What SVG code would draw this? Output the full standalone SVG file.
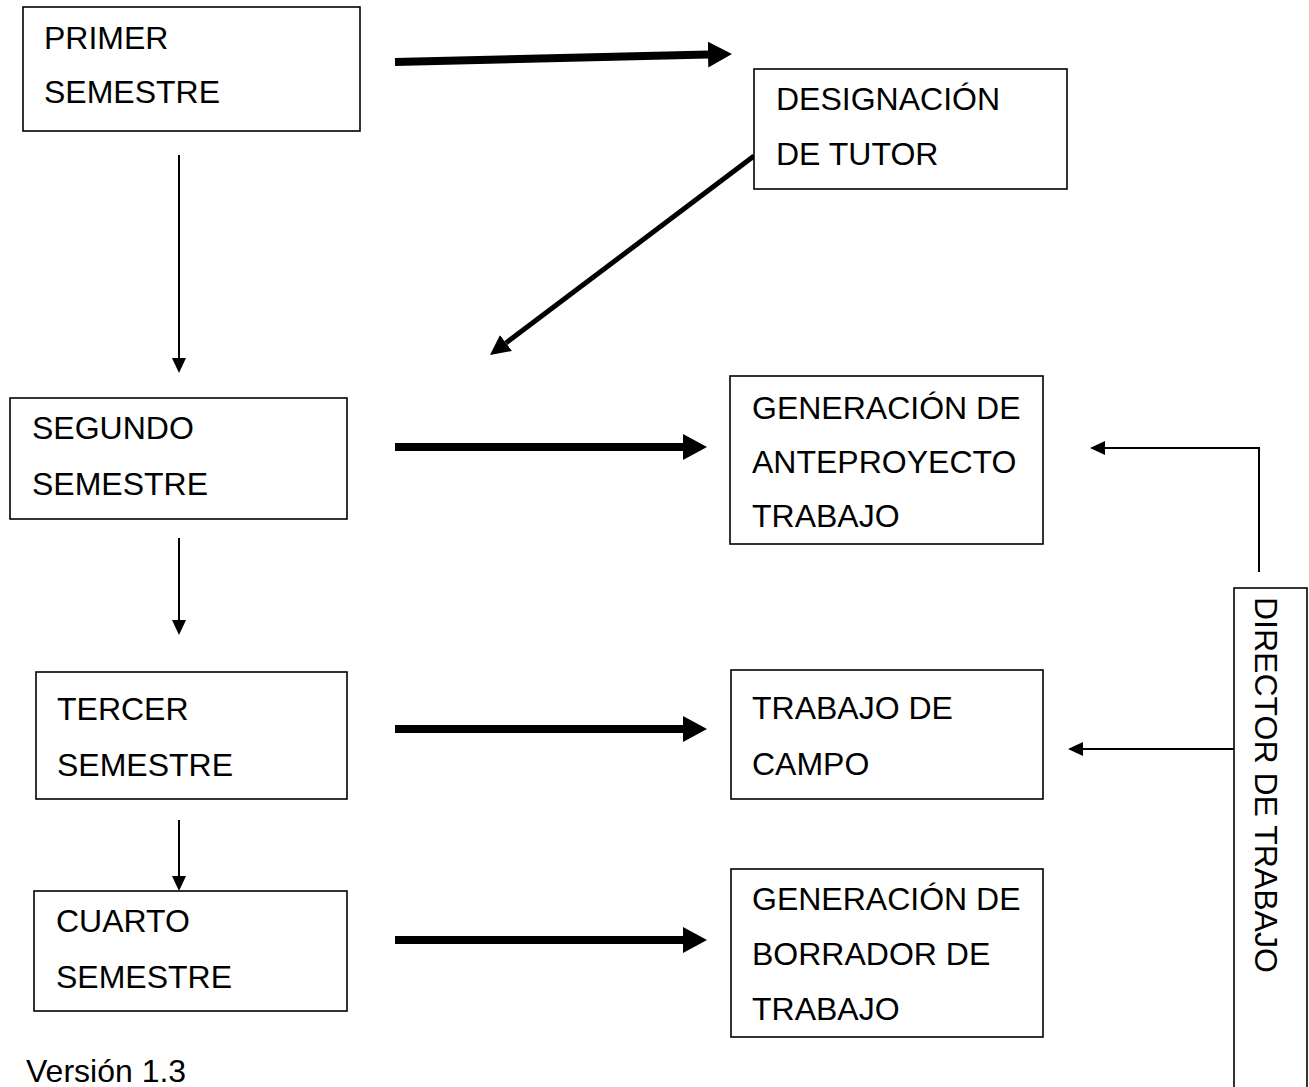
<svg xmlns="http://www.w3.org/2000/svg" width="1309" height="1087" viewBox="0 0 1309 1087">
<style>
.box{fill:#fff;stroke:#000;stroke-width:1.6}
.t{font-family:"Liberation Sans",Arial,sans-serif;font-size:32px;fill:#000}
.thick{stroke:#000;stroke-width:8;fill:none}
.diag{stroke:#000;stroke-width:5;fill:none}
.thin{stroke:#000;stroke-width:2;fill:none}
</style>
<defs>
<marker id="hBig" markerUnits="userSpaceOnUse" markerWidth="24" markerHeight="26" refX="0" refY="13" orient="auto"><path d="M0,0 L24,13 L0,26 z" fill="#000"/></marker>
<marker id="hMid" markerUnits="userSpaceOnUse" markerWidth="20" markerHeight="20" refX="0" refY="10" orient="auto"><path d="M0,0 L20,10 L0,20 z" fill="#000"/></marker>
<marker id="hSmall" markerUnits="userSpaceOnUse" markerWidth="15" markerHeight="14" refX="0" refY="7" orient="auto"><path d="M0,0 L15,7 L0,14 z" fill="#000"/></marker>
</defs>
<rect width="1309" height="1087" fill="#fff"/>
<g id="connectors">
<line class="thick" x1="395" y1="62" x2="708" y2="54.6" marker-end="url(#hBig)"/>
<line class="diag" x1="754" y1="156" x2="506" y2="343" marker-end="url(#hMid)"/>
<line class="thin" x1="179" y1="155" x2="179" y2="358" marker-end="url(#hSmall)"/>
<line class="thin" x1="179" y1="538" x2="179" y2="620" marker-end="url(#hSmall)"/>
<line class="thin" x1="179" y1="820" x2="179" y2="876" marker-end="url(#hSmall)"/>
<line class="thick" x1="395" y1="447" x2="683" y2="447" marker-end="url(#hBig)"/>
<line class="thick" x1="395" y1="729" x2="683" y2="729" marker-end="url(#hBig)"/>
<line class="thick" x1="395" y1="940" x2="683" y2="940" marker-end="url(#hBig)"/>
<polyline class="thin" points="1259,572 1259,448 1105,448" marker-end="url(#hSmall)"/>
<line class="thin" x1="1234" y1="749" x2="1083" y2="749" marker-end="url(#hSmall)"/>
</g>
<g id="primer">
<rect class="box" x="23" y="7" width="337" height="124"/>
<text class="t" x="44" y="49">PRIMER</text>
<text class="t" x="44" y="103">SEMESTRE</text>
</g>
<g id="designacion">
<rect class="box" x="754" y="69" width="313" height="120"/>
<text class="t" x="776" y="110">DESIGNACIÓN</text>
<text class="t" x="776" y="165">DE TUTOR</text>
</g>
<g id="segundo">
<rect class="box" x="10" y="398" width="337" height="121"/>
<text class="t" x="32" y="439">SEGUNDO</text>
<text class="t" x="32" y="495">SEMESTRE</text>
</g>
<g id="anteproyecto">
<rect class="box" x="730" y="376" width="313" height="168"/>
<text class="t" x="752" y="419">GENERACIÓN DE</text>
<text class="t" x="752" y="473">ANTEPROYECTO</text>
<text class="t" x="752" y="527">TRABAJO</text>
</g>
<g id="tercer">
<rect class="box" x="36" y="672" width="311" height="127"/>
<text class="t" x="57" y="720">TERCER</text>
<text class="t" x="57" y="776">SEMESTRE</text>
</g>
<g id="campo">
<rect class="box" x="731" y="670" width="312" height="129"/>
<text class="t" x="752" y="719">TRABAJO DE</text>
<text class="t" x="752" y="775">CAMPO</text>
</g>
<g id="cuarto">
<rect class="box" x="34" y="891" width="313" height="120"/>
<text class="t" x="56" y="932">CUARTO</text>
<text class="t" x="56" y="988">SEMESTRE</text>
</g>
<g id="borrador">
<rect class="box" x="731" y="869" width="312" height="168"/>
<text class="t" x="752" y="910">GENERACIÓN DE</text>
<text class="t" x="752" y="965">BORRADOR DE</text>
<text class="t" x="752" y="1020">TRABAJO</text>
</g>
<g id="director">
<rect class="box" x="1234" y="588" width="73" height="520"/>
<text class="t" transform="translate(1255,597) rotate(90)">DIRECTOR DE TRABAJO</text>
</g>
<g id="version">
<text class="t" x="26" y="1082">Versión 1.3</text>
</g>
</svg>
